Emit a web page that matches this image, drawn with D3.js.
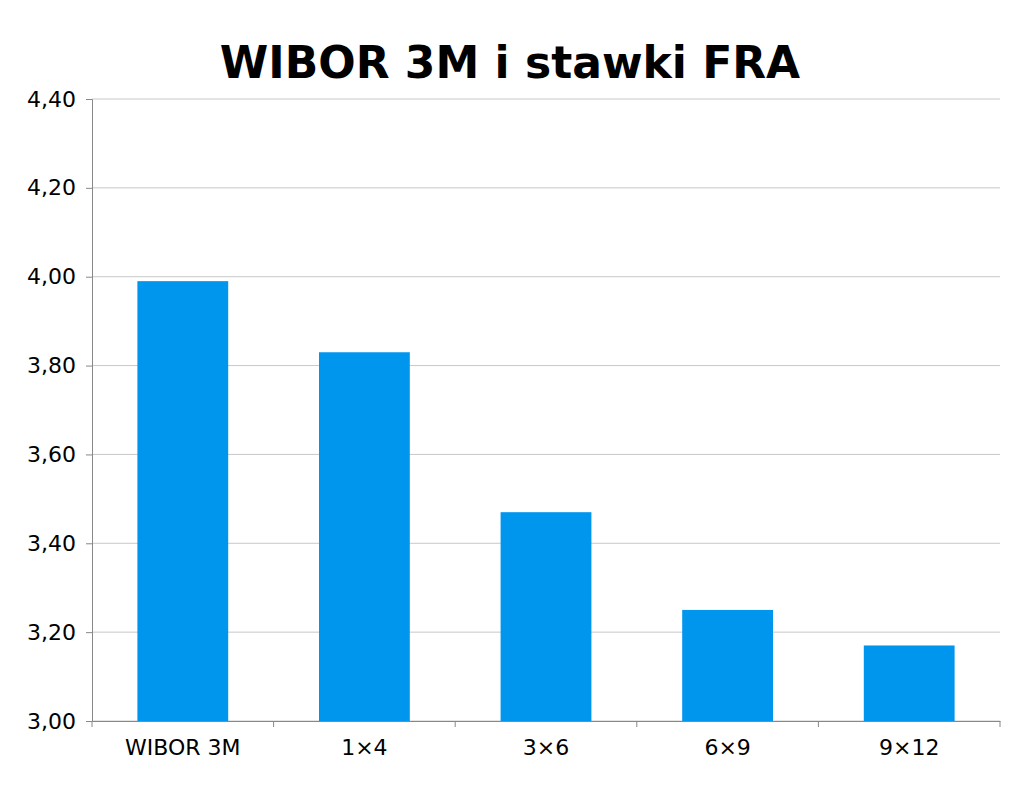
<!DOCTYPE html>
<html><head><meta charset="utf-8">
<script src="https://d3js.org/d3.v7.min.js"></script>
<style>body{margin:0;background:#fff}</style></head>
<body><svg id="c" width="1024" height="791"></svg>
<script>
const categories = ["WIBOR 3M","1x4","3x6","6x9","9x12"];
const values = [3.99,3.83,3.47,3.25,3.17];
const yTicks = [3.0,3.2,3.4,3.6,3.8,4.0,4.2,4.4];
const title = "WIBOR 3M i stawki FRA";

const svg = d3.select("#c");
const m = {l:92, r:1000, t:99, b:721};
const x = d3.scaleBand().domain(categories).range([m.l,m.r]).paddingInner(0.5).paddingOuter(0.25);
const y = d3.scaleLinear().domain([3,4.4]).range([m.b,m.t]);
const fmt = d => d.toFixed(2).replace(".",",");

svg.append("text").attr("x",510).attr("y",78).attr("text-anchor","middle")
  .attr("font-family","DejaVu Sans").attr("font-weight","bold").attr("font-size",44).text(title);

svg.append("g").selectAll("line").data(yTicks).join("line")
  .attr("x1",m.l).attr("x2",m.r).attr("y1",d=>y(d)).attr("y2",d=>y(d))
  .attr("stroke","#c8c8c8").attr("stroke-width",1);

const ya = svg.append("g").attr("transform",`translate(${m.l},0)`)
  .call(d3.axisLeft(y).tickValues(yTicks).tickFormat(fmt).tickSize(6).tickPadding(10));
ya.selectAll("text").attr("font-family","DejaVu Sans").attr("font-size",22).attr("fill","#000");
ya.selectAll("line,path").attr("stroke","#888");

svg.append("g").selectAll("rect").data(values).join("rect")
  .attr("x",(d,i)=>x(categories[i])).attr("width",x.bandwidth())
  .attr("y",d=>y(d)).attr("height",d=>y(3)-y(d)).attr("fill","#0096ee");

const xa = svg.append("g").attr("transform",`translate(0,${m.b})`)
  .call(d3.axisBottom(x).tickSize(0).tickPadding(18));
xa.selectAll("text").attr("font-family","DejaVu Sans").attr("font-size",22).attr("fill","#000")
  .text(d=>d.replace("x","\u00d7"));
xa.select("path").attr("stroke","#888");
const step = x.step();
svg.append("g").selectAll("line").data(d3.range(categories.length+1)).join("line")
  .attr("x1",i=>m.l+i*step).attr("x2",i=>m.l+i*step).attr("y1",m.b).attr("y2",m.b+6).attr("stroke","#888");
</script></body></html>
